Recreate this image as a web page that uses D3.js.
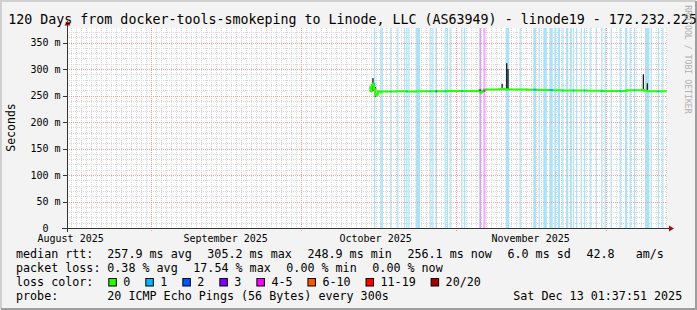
<!DOCTYPE html>
<html lang="en">
<head>
  <meta charset="utf-8">
  <title>SmokePing 120 days - linode19</title>
  <style>
    body { margin: 0; background: #fff; }
    svg { display: block; font-family: "DejaVu Sans Mono", monospace; }
    .txt { fill: #000; white-space: pre; }
    .minor { stroke: #d6d6d6; stroke-dasharray: 1,1; shape-rendering: crispEdges; }
    .major { stroke: #ff9a9a; stroke-dasharray: 1,1; shape-rendering: crispEdges; }
  </style>
</head>
<body>
<svg id="chart" width="697" height="310"></svg>

<script src="https://cdn.jsdelivr.net/npm/d3@7/dist/d3.min.js"></script>
<script>
  // --- data (times are local, UTC-5, as "MM-DDTHH") ---
  var endTime = "12-13T01:37:51";
  var spanDays = 120;
  var yMax = 377.4;            // ms, upper limit of the graph
  var yTicks = [0, 50, 100, 150, 200, 250, 300, 350];

  // median rtt (ms)
  var medTimes = ["10-14T12", "10-14T18", "10-15T00", "10-15T06", "10-15T12", "10-15T18",
                  "10-16T00", "10-16T06", "10-16T18", "10-17T00", "10-20T00", "10-22T00",
                  "10-24T00", "10-27T00", "10-30T00", "11-01T00", "11-03T00", "11-05T00",
                  "11-05T12", "11-05T18", "11-06T00", "11-06T06", "11-06T12", "11-07T00",
                  "11-09T12", "11-10T00", "11-10T12", "11-11T00", "11-13T00", "11-15T00",
                  "11-17T00", "11-20T00", "11-22T00", "11-25T00", "11-27T00", "11-30T00",
                  "12-01T00", "12-03T00", "12-05T00", "12-06T00", "12-08T00", "12-08T12",
                  "12-09T00", "12-10T00", "12-11T00", "12-13T00"];
  var medValues = [265, 258, 270, 272, 262, 250,
                   252, 258, 256, 257.5, 258, 257.5,
                   258, 258, 258.5, 258.5, 258.5, 258.5,
                   260, 255, 257, 259, 261.5, 261.5,
                   262, 263, 262, 261.5, 261.5, 261,
                   260.5, 260, 259.5, 259.5, 259, 258.5,
                   258.5, 258.5, 260, 260, 260.5, 259,
                   258, 258, 258, 258];

  // smoke spikes (ms)
  var smokeTimes = ["10-15T00", "10-15T06", "10-15T18", "11-10T02", "11-11T00", "11-11T06", "12-08T08", "12-09T03"];
  var smokeLow   = [260, 258, 247, 262, 260, 262, 260, 258];
  var smokeHigh  = [270, 283, 266, 272, 311, 300, 290, 273];

  // packet loss periods: start, length (hours), lost pings
  var lossStart = ["10-15T11", "10-16T17", "10-17T00", "10-18T17", "10-20T03", "10-21T11", "10-21T22",
                   "10-22T08", "10-23T19", "10-26T14", "10-27T03", "10-27T19", "10-29T14", "10-30T01",
                   "10-30T14", "11-01T22", "11-02T11", "11-05T13", "11-06T08", "11-10T19", "11-13T14",
                   "11-16T08", "11-17T09", "11-18T08", "11-19T13", "11-20T13", "11-21T05", "11-22T03",
                   "11-22T21", "11-23T16", "11-24T06", "11-24T21", "11-25T19", "11-26T11", "11-27T14",
                   "11-28T19", "11-29T22", "11-30T14", "12-01T19", "12-03T14", "12-04T16", "12-05T14",
                   "12-06T11", "12-08T16", "12-09T19", "12-11T06", "12-12T03"];
  var lossHours = [5, 5, 5, 5, 5, 5, 5,
                   5, 21, 5, 5, 5, 5, 5,
                   5, 5, 5, 8, 10, 17, 5,
                   13, 5, 16, 16, 8, 11, 5,
                   11, 8, 5, 6, 5, 5, 5,
                   5, 5, 5, 5, 5, 11, 5,
                   5, 21, 5, 5, 5];
  var lossLevel = [1, 1, 1, 1, 1, 1, 1,
                   1, 1, 1, 1, 2, 1, 1,
                   1, 1, 1, 3, 5, 1, 1,
                   1, 1, 1, 1, 1, 1, 1,
                   1, 1, 1, 1, 1, 1, 1,
                   1, 1, 1, 1, 1, 1, 1,
                   1, 1, 1, 1, 1];

  // legend
  var lossLabels = ["0", "1", "2", "3", "4-5", "6-10", "11-19", "20/20"];
  var lossColors = ["#26ff00", "#00b8ff", "#0059ff", "#7e00ff", "#ff00ff", "#ff5500", "#ff0000", "#a10000"];
  var rttStats  = ["257.9 ms avg", "305.2 ms max", "248.9 ms min", "256.1 ms now", "6.0 ms sd", "42.8   am/s"];
  var lossStats = ["0.38 % avg", "17.54 % max", "0.00 % min", "0.00 % now"];

  // --- drawing ---
  function parseT(s) {
    var p = s.length > 8 ? s : s + ":00:00";
    return new Date("2025-" + p + "-05:00");
  }
  function levelIndex(n) {
    if (n <= 3) return n;
    if (n <= 5) return 4;
    if (n <= 10) return 5;
    if (n <= 19) return 6;
    return 7;
  }

  var W = 697, H = 310;
  var pl = 67, pr = 667, pt = 28, pb = 228;
  var end = parseT(endTime);
  var start = new Date(+end - spanDays * 864e5);

  var x = d3.scaleTime().domain([start, end]).range([pl, pr]);
  var y = d3.scaleLinear().domain([0, yMax]).range([pb, pt]);
  var crisp = function(v) { return Math.round(v) + 0.5; };

  var svg = d3.select("#chart");

  // background + 3d frame
  svg.append("rect").attr("width", W).attr("height", H).attr("fill", "#f3f3f3");
  svg.append("path").attr("d", "M1,309V1H696").attr("fill", "none").attr("stroke", "#cfcfcf").attr("stroke-width", 2);
  svg.append("path").attr("d", "M1,309H696V1").attr("fill", "none").attr("stroke", "#9e9e9e").attr("stroke-width", 2);

  // canvas
  svg.append("rect").attr("x", pl).attr("y", pt).attr("width", pr - pl).attr("height", pb - pt).attr("fill", "#fff");

  var lossData = lossStart.map(function(s, i) { return {t: parseT(s), h: lossHours[i], l: lossLevel[i]}; });
  var barW = function(d) { return Math.max(1.2, x(new Date(+d.t + d.h * 36e5)) - x(d.t)); };

  // loss background bars
  svg.append("g").selectAll("rect")
    .data(lossData)
    .enter().append("rect")
      .attr("x", function(d) { return x(d.t); })
      .attr("width", barW)
      .attr("y", pt)
      .attr("height", pb - pt)
      .attr("fill", function(d) { return lossColors[levelIndex(d.l)]; })
      .attr("fill-opacity", 0.36);

  // grid
  var grid = svg.append("g");
  grid.selectAll(".vmin").data(d3.utcDay.range(start, end)).enter().append("line")
    .attr("class", "minor")
    .attr("x1", function(d) { return crisp(x(d)); }).attr("x2", function(d) { return crisp(x(d)); })
    .attr("y1", pt).attr("y2", pb);
  grid.selectAll(".hmin").data(d3.range(10, yMax, 10)).enter().append("line")
    .attr("class", "minor")
    .attr("x1", pl).attr("x2", pr)
    .attr("y1", function(d) { return crisp(y(d)); }).attr("y2", function(d) { return crisp(y(d)); });
  grid.selectAll(".vmaj").data(d3.utcMonth.range(start, end)).enter().append("line")
    .attr("class", "major")
    .attr("x1", function(d) { return crisp(x(d)); }).attr("x2", function(d) { return crisp(x(d)); })
    .attr("y1", pt).attr("y2", pb + 3);
  grid.selectAll(".hmaj").data(yTicks.filter(function(v) { return v > 0; })).enter().append("line")
    .attr("class", "major")
    .attr("x1", pl).attr("x2", pr)
    .attr("y1", function(d) { return crisp(y(d)); }).attr("y2", function(d) { return crisp(y(d)); });

  // smoke
  svg.append("g").selectAll("rect")
    .data(smokeTimes.map(function(s, i) { return {t: parseT(s), lo: smokeLow[i], hi: smokeHigh[i]}; }))
    .enter().append("rect")
      .attr("x", function(d) { return x(d.t) - 0.6; })
      .attr("width", 1.3)
      .attr("y", function(d) { return y(d.hi); })
      .attr("height", function(d) { return y(d.lo) - y(d.hi); })
      .attr("fill", "#1a1a1a");

  // median line
  var med = medTimes.map(function(s, i) { return {t: parseT(s), v: medValues[i]}; });
  var line = d3.line().x(function(d) { return x(d.t); }).y(function(d) { return y(d.v); }).curve(d3.curveStepAfter);
  svg.append("path").datum(med).attr("d", line)
    .attr("fill", "none").attr("stroke", lossColors[0]).attr("stroke-width", 2);

  // median colored by loss where loss occurred
  var medAt = function(t) {
    var i = d3.bisector(function(d) { return d.t; }).right(med, t) - 1;
    return med[Math.max(0, i)].v;
  };
  svg.append("g").selectAll("rect")
    .data(lossData.filter(function(d, i) { return i % 3 === 0 || d.l > 1; }))
    .enter().append("rect")
      .attr("x", function(d) { return x(d.t); })
      .attr("width", barW)
      .attr("y", function(d) { return y(medAt(d.t)) - 1; })
      .attr("height", 2)
      .attr("fill", function(d) { return lossColors[levelIndex(d.l)]; });

  // axes
  var axisCol = "#333";
  svg.append("line").attr("x1", 62).attr("x2", 669).attr("y1", pb + 0.5).attr("y2", pb + 0.5).attr("stroke", axisCol);
  svg.append("line").attr("x1", pl + 0.5).attr("x2", pl + 0.5).attr("y1", pb + 4).attr("y2", 25).attr("stroke", axisCol);
  svg.append("path").attr("d", "M669,225.5L674,228.5L669,231.5Z").attr("fill", "#a01010");
  svg.append("path").attr("d", "M64.5,25.5L67.5,20.5L70.5,25.5Z").attr("fill", "#a01010");

  // y ticks + labels
  svg.append("g").selectAll("line").data(yTicks).enter().append("line")
    .attr("x1", 63).attr("x2", pl)
    .attr("y1", function(d) { return crisp(y(d)); }).attr("y2", function(d) { return crisp(y(d)); })
    .attr("stroke", axisCol);
  svg.append("g").selectAll("text").data(yTicks).enter().append("text")
    .attr("class", "txt")
    .attr("x", 60.5)
    .attr("y", function(d) { return y(d) + 3.6; })
    .attr("text-anchor", "end")
    .style("font-size", "10px")
    .text(function(d) { return d === 0 ? "0  " : d + " m"; });

  // x labels: month name centred half a month after its start
  svg.append("g").selectAll("text").data(d3.utcMonth.range(d3.utcMonth.floor(start), end)).enter().append("text")
    .attr("class", "txt")
    .attr("x", function(d) { return x(new Date(+d + 15 * 864e5)); })
    .attr("y", 241.5)
    .attr("text-anchor", "middle")
    .style("font-size", "10px")
    .text(function(d) { return d3.utcFormat("%B %Y")(d); })
    .filter(function(d) { return +d + 15 * 864e5 > +end; }).remove();

  // title, axis title, watermark
  svg.append("text").attr("class", "txt").attr("x", 8.3).attr("y", 24).style("font-size", "13.3px")
    .text("120 Days from docker-tools-smokeping to Linode, LLC (AS63949) - linode19 - 172.232.225");
  svg.append("text").attr("class", "txt").attr("transform", "translate(15,127.5) rotate(-90)")
    .attr("text-anchor", "middle").style("font-size", "11.5px").text("Seconds");
  svg.append("text").attr("transform", "translate(685,59.5) rotate(90)")
    .attr("text-anchor", "middle").style("font-size", "8.2px").attr("fill", "#b0b0b0")
    .text("RRDTOOL / TOBI OETIKER");

  // legend: items follow each other with a fixed gap
  var lf = "11.7px", cw = 7.02, gap = 15.8, col0 = 107.3;
  var lg = svg.append("g").style("font-size", lf);
  var row = function(yy, label, items) {
    lg.append("text").attr("class", "txt").attr("x", 16).attr("y", yy).text(label);
    var cx = col0;
    items.forEach(function(s) {
      lg.append("text").attr("class", "txt").attr("x", cx).attr("y", yy).text(s);
      cx += s.length * cw + gap;
    });
  };
  row(257.5, "median rtt:", rttStats);
  row(271.5, "packet loss:", lossStats);
  lg.append("text").attr("class", "txt").attr("x", 16).attr("y", 285.5).text("loss color:");
  var bx = 108.3;
  lossLabels.forEach(function(s, i) {
    lg.append("rect").attr("x", bx + 0.5).attr("y", 278.5).attr("width", 7.5).attr("height", 7.5)
      .attr("fill", lossColors[i]).attr("stroke", "#000").attr("stroke-width", 1);
    lg.append("text").attr("class", "txt").attr("x", bx + 15).attr("y", 285.5).text(s);
    bx += 15 + s.length * cw + 15;
  });
  lg.append("text").attr("class", "txt").attr("x", 16).attr("y", 299.5).text("probe:");
  lg.append("text").attr("class", "txt").attr("x", col0).attr("y", 299.5).text("20 ICMP Echo Pings (56 Bytes) every 300s");
  lg.append("text").attr("class", "txt").attr("x", 513.3).attr("y", 299.5).text("Sat Dec 13 01:37:51 2025");
</script>
</body>
</html>
